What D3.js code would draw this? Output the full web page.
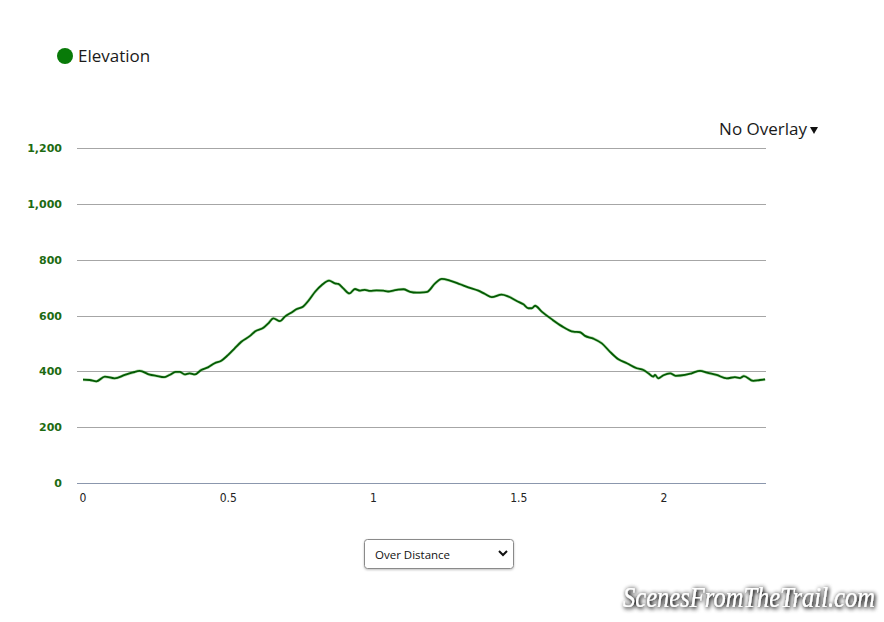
<!DOCTYPE html>
<html>
<head>
<meta charset="utf-8">
<script src="https://cdn.jsdelivr.net/npm/d3@7"></script>
<style>
  html, body { margin: 0; padding: 0; background: #fff; }
  svg { display: block; }
</style>
</head>
<body>
<svg id="chart" width="884" height="622"></svg>
<script>
// ---- data (distance in miles, elevation in feet) ----
const distances = [0,0.023,0.046,0.075,0.109,0.144,0.172,0.195,0.230,0.252,0.279,0.298,0.319,0.333,0.350,0.367,0.385,0.407,0.430,0.453,0.476,0.499,0.522,0.545,0.575,0.592,0.621,0.638,0.655,0.678,0.695,0.718,0.736,0.758,0.776,0.799,0.822,0.847,0.867,0.879,0.896,0.917,0.936,0.954,0.970,0.988,1.010,1.034,1.050,1.068,1.085,1.103,1.126,1.149,1.171,1.185,1.212,1.235,1.263,1.298,1.326,1.361,1.384,1.407,1.441,1.464,1.493,1.516,1.533,1.545,1.556,1.579,1.613,1.648,1.688,1.711,1.728,1.757,1.786,1.814,1.843,1.872,1.906,1.929,1.946,1.963,1.969,1.980,1.998,2.021,2.040,2.072,2.095,2.124,2.148,2.181,2.216,2.244,2.262,2.275,2.307,2.330,2.348];
const elevations = [370,369,364,381,375,387,396,402,388,384,379,387,398,398,389,393,389,405,414,429,438,458,482,506,527,543,556,572,590,580,596,611,623,632,653,685,709,725,715,713,697,679,695,689,692,688,690,689,686,689,693,694,685,682,683,685,715,731,725,712,701,689,677,666,675,668,652,640,626,626,635,614,587,562,542,540,527,517,500,470,443,429,411,405,393,381,387,375,386,393,384,387,393,402,395,387,375,379,376,383,366,369,371];
const yTicks = [0, 200, 400, 600, 800, 1000, 1200];
const xTicks = [0, 0.5, 1, 1.5, 2];
const seriesName = "Elevation";
const overlayLabel = "No Overlay";
const selectLabel = "Over Distance";
const watermark = "ScenesFromTheTrail.com";

const data = distances.map((d, i) => ({ d, e: elevations[i] }));

const svg = d3.select("#chart");

// scales
const x = d3.scaleLinear().domain([0, 2.351]).range([83, 766]);
const y = d3.scaleLinear().domain([0, 1200]).range([483, 148]);
const gridLeft = 77, gridRight = 766;

// gridlines
svg.append("g").selectAll("line")
  .data(yTicks)
  .join("line")
  .attr("x1", gridLeft).attr("x2", gridRight)
  .attr("y1", d => Math.round(y(d)) + 0.5).attr("y2", d => Math.round(y(d)) + 0.5)
  .attr("stroke", d => d === 0 ? "#8b97ad" : "#a6a6a6")
  .attr("stroke-width", 1);

// y axis labels
svg.append("g").selectAll("text")
  .data(yTicks)
  .join("text")
  .attr("x", 62)
  .attr("y", d => y(d) + 4)
  .attr("text-anchor", "end")
  .attr("font-family", "'DejaVu Sans', Verdana, sans-serif")
  .attr("font-size", "11px")
  .attr("font-weight", "bold")
  .attr("fill", "#1d6b12")
  .text(d => d3.format(",")(d));

// x axis labels
svg.append("g").selectAll("text")
  .data(xTicks)
  .join("text")
  .attr("x", d => x(d))
  .attr("y", 502)
  .attr("text-anchor", "middle")
  .attr("font-family", "'Liberation Sans Narrow', 'DejaVu Sans Condensed', sans-serif")
  .attr("font-size", "12px")
  .attr("fill", "#222")
  .text(d => d3.format("")(d));

// line
const line = d3.line().x(d => x(d.d)).y(d => y(d.e)).curve(d3.curveMonotoneX);
svg.append("path").datum(data)
  .attr("d", line)
  .attr("fill", "none")
  .attr("stroke", "#4cae3c")
  .attr("stroke-opacity", 0.4)
  .attr("stroke-width", 3)
  .attr("stroke-linejoin", "round");
svg.append("path").datum(data)
  .attr("d", line)
  .attr("fill", "none")
  .attr("stroke", "#035a03")
  .attr("stroke-width", 1.8)
  .attr("stroke-linejoin", "round");

// legend
svg.append("circle").attr("cx", 65).attr("cy", 56).attr("r", 8).attr("fill", "#087a08");
svg.append("text").attr("x", 78).attr("y", 62)
  .attr("font-family", "'Open Sans', sans-serif").attr("font-size", "17px").attr("fill", "#1a1a1a")
  .text(seriesName);

// overlay label
svg.append("text").attr("x", 807).attr("y", 135)
  .attr("text-anchor", "end")
  .attr("font-family", "'Open Sans', sans-serif").attr("font-size", "17px").attr("fill", "#1a1a1a")
  .text(overlayLabel);
svg.append("path").attr("d", "M810,127 L818,127 L814,134 Z").attr("fill", "#111");

// select box
const defs = svg.append("defs");
const sh = defs.append("filter").attr("id", "sh").attr("x", "-10%").attr("y", "-20%").attr("width", "120%").attr("height", "150%");
sh.append("feDropShadow").attr("dx", 0).attr("dy", 1).attr("stdDeviation", 1).attr("flood-color", "#000").attr("flood-opacity", 0.25);
svg.append("rect").attr("x", 364.5).attr("y", 539.5).attr("width", 149).attr("height", 29).attr("rx", 3)
  .attr("fill", "#fff").attr("stroke", "#8a8a8a").attr("filter", "url(#sh)");
svg.append("text").attr("x", 375).attr("y", 558.5)
  .attr("font-family", "'Open Sans', sans-serif").attr("font-size", "11.5px").attr("fill", "#111")
  .text(selectLabel);
svg.append("path").attr("d", "M499,551 L503,555 L507,551").attr("fill", "none").attr("stroke", "#111").attr("stroke-width", 2);

// watermark
const blur = defs.append("filter").attr("id", "wm").attr("x", "-5%").attr("y", "-30%").attr("width", "110%").attr("height", "160%");
blur.append("feGaussianBlur").attr("in", "SourceAlpha").attr("stdDeviation", 2.2).attr("result", "b");
blur.append("feOffset").attr("in", "b").attr("dx", 1).attr("dy", 1).attr("result", "o");
blur.append("feComponentTransfer").attr("in", "o").attr("result", "s")
  .append("feFuncA").attr("type", "linear").attr("slope", 1.6);
const m = blur.append("feMerge");
m.append("feMergeNode").attr("in", "s");
m.append("feMergeNode").attr("in", "SourceGraphic");
svg.append("text")
  .attr("transform", "translate(623,607) scale(1,1.2)")
  .attr("x", 0).attr("y", 0)
  .attr("font-family", "'Liberation Serif', 'DejaVu Serif', serif").attr("font-style", "italic")
  .attr("font-size", "25px").attr("fill", "#fff")
  .attr("textLength", 252).attr("lengthAdjust", "spacingAndGlyphs")
  .attr("filter", "url(#wm)")
  .text(watermark);
</script>
</body>
</html>
